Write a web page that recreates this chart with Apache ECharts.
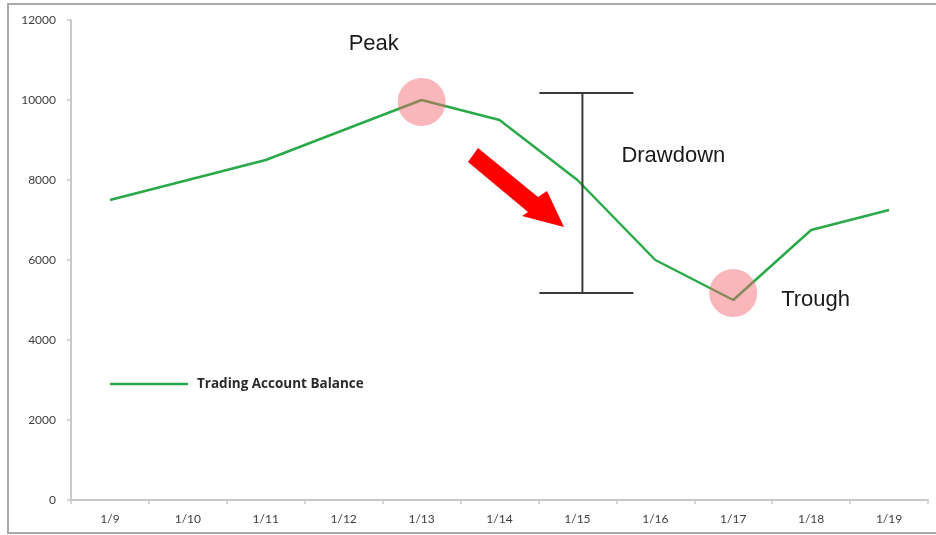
<!DOCTYPE html>
<html>
<head>
<meta charset="utf-8">
<script src="https://cdn.jsdelivr.net/npm/echarts@6/dist/echarts.min.js"></script>
<style>
  html, body { margin: 0; padding: 0; background: #ffffff; }
  #chart { width: 936px; height: 535px; }
</style>
</head>
<body>
<div id="chart"></div>
<script>
// Daily account balance
const dates = ['1/9', '1/10', '1/11', '1/12', '1/13', '1/14', '1/15', '1/16', '1/17', '1/18', '1/19'];
const balance = [7500, 8000, 8500, 9250, 10000, 9500, 8000, 6000, 5000, 6750, 7250];

// Value axis range
const yMin = 0;
const yMax = 12000;
const yStep = 2000;

// Highlighted turning points (peak and trough)
const highlightDates = ['1/13', '1/17'];
const highlightValues = [9950, 5175];

// Drawdown span marker
const drawdownDate = '1/15';
const drawdownTop = 10175;
const drawdownBottom = 5175;

// Annotation captions
const captions = [
  { text: 'Peak', date: '1/12', value: 11400, dx: 5 },
  { text: 'Drawdown', date: '1/15', value: 8600, dx: 44 },
  { text: 'Trough', date: '1/18', value: 5000, dx: -30 }
];

const seriesName = 'Trading Account Balance';
const lineColor = '#2aa94a';
const labelFont = 'Lato, "Liberation Sans", sans-serif';
const legendFont = '"Open Sans", "Liberation Sans", sans-serif';
const captionFont = '"Liberation Sans", Arial, sans-serif';

const chart = echarts.init(document.getElementById('chart'), null, { renderer: 'canvas' });

chart.setOption({
  animation: false,
  backgroundColor: '#ffffff',
  grid: { left: 71, right: 8, top: 20, bottom: 35, containLabel: false },
  legend: {
    data: [seriesName],
    left: 110,
    top: 377,
    padding: 0,
    icon: 'rect',
    itemWidth: 78,
    itemHeight: 2.5,
    textStyle: {
      fontFamily: legendFont,
      fontSize: 13.5,
      fontWeight: 'bold',
      color: '#2a2a2a',
      padding: [0, 0, 0, 4]
    }
  },
  xAxis: {
    type: 'category',
    data: dates,
    boundaryGap: true,
    axisLine: { lineStyle: { color: '#c9c9c9', width: 2 } },
    axisTick: { show: true, length: 4, lineStyle: { color: '#c9c9c9', width: 1.5 } },
    axisLabel: {
      margin: 13,
      fontFamily: labelFont,
      fontSize: 12,
      color: '#3d3d3d'
    },
    splitLine: { show: false }
  },
  yAxis: {
    type: 'value',
    min: yMin,
    max: yMax,
    interval: yStep,
    axisLine: { show: true, lineStyle: { color: '#c9c9c9', width: 2 } },
    axisTick: { show: true, length: 4, lineStyle: { color: '#c9c9c9', width: 1.5 } },
    axisLabel: {
      margin: 15,
      fontFamily: labelFont,
      fontSize: 12,
      color: '#3d3d3d',
      formatter: v => String(v)
    },
    splitLine: { show: false }
  },
  series: [
    {
      name: seriesName,
      type: 'line',
      data: balance,
      showSymbol: false,
      color: lineColor,
      lineStyle: { color: lineColor, width: 2.5 },
      z: 2
    },
    {
      name: 'highlights',
      type: 'scatter',
      data: highlightDates.map((d, i) => [d, highlightValues[i]]),
      symbol: 'circle',
      symbolSize: 48,
      itemStyle: { color: 'rgba(245,100,108,0.58)' },
      silent: true,
      z: 3
    }
  ]
});

// Overlay annotations positioned through the axes
function px(date, value) {
  return chart.convertToPixel({ xAxisIndex: 0, yAxisIndex: 0 }, [date, value]);
}

const spanTop = px(drawdownDate, drawdownTop);
const spanBot = px(drawdownDate, drawdownBottom);
const barX = spanTop[0] + 5;
const capHalf = 47;
const barStyle = { stroke: '#3a3a3a', lineWidth: 2 };

const graphics = [
  // frame around the chart area
  {
    type: 'rect',
    shape: { x: 8, y: 4, width: 940, height: 529 },
    style: { fill: null, stroke: '#a9a9a9', lineWidth: 2 },
    silent: true, z: 0
  },
  // drawdown span
  { type: 'line', shape: { x1: barX, y1: spanTop[1], x2: barX, y2: spanBot[1] }, style: barStyle, z: 5 },
  { type: 'line', shape: { x1: barX - capHalf + 4, y1: spanTop[1], x2: barX + capHalf + 4, y2: spanTop[1] }, style: barStyle, z: 5 },
  { type: 'line', shape: { x1: barX - capHalf + 4, y1: spanBot[1], x2: barX + capHalf + 4, y2: spanBot[1] }, style: barStyle, z: 5 },
  // direction arrow
  {
    type: 'polygon',
    shape: {
      points: [[478, 148], [538, 197], [547, 191], [564, 227], [522, 216], [528, 212], [468, 162]]
    },
    style: { fill: '#ff0000', stroke: null },
    z: 5
  }
];

captions.forEach(c => {
  const p = px(c.date, c.value);
  graphics.push({
    type: 'text',
    x: p[0] + c.dx,
    y: p[1],
    style: {
      text: c.text,
      fontFamily: captionFont,
      fontSize: 22,
      fill: '#1a1a1a',
      verticalAlign: 'middle',
      align: 'left'
    },
    z: 6
  });
});

chart.setOption({ graphic: graphics });
</script>
</body>
</html>
